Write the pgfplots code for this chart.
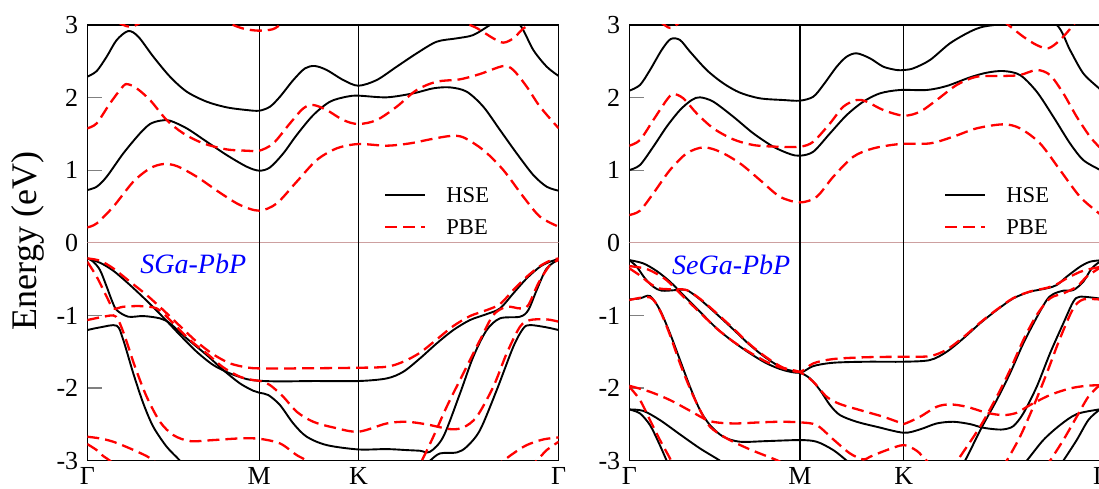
\documentclass[border=0pt]{standalone}
\usepackage{fontspec}
\setmainfont{Liberation Serif}
\usepackage{pgfplots}
\pgfplotsset{compat=1.18}
\definecolor{zeroline}{RGB}{205,160,160}

% 1 px of the reference = 0.5pt; x runs along the k-path in px from Gamma
\pgfplotsset{
  bandaxis/.style={
    scale only axis, width=235.7pt, height=217.85pt, anchor=south west,
    xmin=0, xmax=471.4, ymin=-3, ymax=3,
    ytick={-3,-2,-1,0,1,2,3}, yticklabels={-3,-2,-1,0,1,2,3},
    ytick pos=left, tick align=inside, major tick length=7.5pt,
    xtick style={draw=none},
    ytick style={line width=0.6pt},
    axis line style={line width=0.6pt},
    yticklabel style={font=\fontsize{13}{15}\selectfont, xshift=-1pt},
    xticklabel style={font=\fontsize{13}{15}\selectfont, inner sep=3pt},
  },
  hse/.style={black, line width=0.95pt, smooth, tension=0.5},
  pbe/.style={red, line width=1.15pt, dash pattern=on 6pt off 3pt, smooth, tension=0.5},
}
\tikzset{
  hseline/.style={black, line width=0.95pt},
  pbeline/.style={red, line width=1.15pt, dash pattern=on 6pt off 3pt},
  legtext/.style={anchor=west, inner sep=0pt, font=\fontsize{11.3}{13}\selectfont},
  paneltag/.style={anchor=base west, inner sep=0pt, text=blue, font=\fontsize{14}{16}\selectfont\itshape},
}

\begin{document}
\begin{tikzpicture}

% ---------------- left panel: SGa-PbP ----------------
\begin{axis}[bandaxis, at={(43.65pt,13.65pt)},
  xtick={0,172,271.2,471.4}, xticklabels={Γ,M,K,Γ}]
\draw[zeroline, line width=0.4pt] (axis cs:0,0) -- (axis cs:471.4,0);
\draw[black, line width=0.6pt] (axis cs:172,-3) -- (axis cs:172,3);
\draw[black, line width=0.6pt] (axis cs:271.2,-3) -- (axis cs:271.2,3);

% HSE
\addplot[hse] coordinates {(0,0.727)(9.4,0.773)(19.4,0.911)(36,1.232)(52.7,1.508)(62.7,1.636)(72.7,1.682)(82.7,1.682)(99.4,1.577)(119.4,1.393)(139.4,1.209)(159.4,1.049)(172,0.994)(182.7,1.039)(196,1.232)(209.4,1.485)(226,1.76)(242.7,1.944)(259.4,2.013)(271,2.027)(299.4,2.004)(326,2.059)(346,2.128)(362.7,2.141)(379.4,2.082)(396,1.875)(412.7,1.554)(429.4,1.232)(446,0.934)(459.4,0.773)(471.4,0.718)};
\addplot[hse] coordinates {(0,2.288)(9.4,2.366)(19.4,2.564)(29.4,2.793)(41,2.917)(51,2.839)(66,2.564)(82.7,2.288)(99.4,2.082)(119.4,1.944)(139.4,1.866)(159.4,1.829)(172,1.82)(182.7,1.875)(192.7,2.013)(206,2.242)(217.7,2.403)(227.7,2.435)(239.4,2.38)(256,2.242)(271,2.164)(289.4,2.242)(309.4,2.426)(329.4,2.61)(349.4,2.77)(369.4,2.816)(386,2.862)(402.7,3.0)(417,3.12)(432.7,3.0)(446,2.656)(459.4,2.426)(471.4,2.297)};
\addplot[hse] coordinates {(0,-0.214)(12.7,-0.274)(26,-0.384)(42.7,-0.581)(59.4,-0.797)(76,-1.027)(92.7,-1.27)(109.4,-1.5)(126,-1.683)(142.7,-1.798)(159.4,-1.876)(172,-1.899)(192.7,-1.908)(226,-1.903)(271,-1.903)(299.4,-1.867)(316,-1.775)(332.7,-1.591)(349.4,-1.385)(366,-1.201)(382.7,-1.063)(399.4,-0.981)(412.7,-0.903)(426,-0.696)(439.4,-0.489)(452.7,-0.329)(462.7,-0.26)(471.4,-0.223)};
\addplot[hse] coordinates {(0,-0.214)(6,-0.26)(12.7,-0.375)(19.4,-0.604)(24.4,-0.788)(29.4,-0.926)(41,-1.017)(56,-1.008)(72.7,-1.04)(82.7,-1.109)(99.4,-1.316)(119.4,-1.545)(136,-1.752)(152.7,-1.936)(166,-2.037)(172,-2.064)(181,-2.096)(192.7,-2.234)(206,-2.487)(219.4,-2.67)(239.4,-2.785)(271,-2.845)(299.4,-2.84)(319.4,-2.854)(332.7,-2.863)(342.7,-2.877)(356,-2.67)(372.7,-2.074)(386,-1.568)(399.4,-1.201)(412.7,-1.04)(432.7,-1.017)(441,-0.926)(449.4,-0.65)(459.4,-0.352)(471.4,-0.228)};
\addplot[hse] coordinates {(0,-1.201)(12.7,-1.164)(29.4,-1.141)(36,-1.339)(46,-1.798)(56,-2.211)(66,-2.533)(79.4,-2.808)(92.7,-3.0)(105,-3.2)};
\addplot[hse] coordinates {(335,-3.1)(342.7,-3.0)(352.7,-2.9)(369.4,-2.887)(379.4,-2.808)(392.7,-2.579)(409.4,-2.028)(426,-1.431)(436,-1.178)(442.7,-1.132)(459.4,-1.164)(471.4,-1.201)};

% PBE
\addplot[pbe] coordinates {(0,0.213)(9.4,0.268)(26,0.498)(46,0.842)(62.7,1.026)(76,1.085)(89.4,1.058)(109.4,0.911)(132.7,0.69)(152.7,0.521)(172,0.443)(189.4,0.543)(209.4,0.842)(229.4,1.14)(249.4,1.301)(271,1.361)(299.4,1.338)(322.7,1.37)(342.7,1.425)(362.7,1.471)(376,1.453)(396,1.278)(416,1.003)(436,0.635)(452.7,0.36)(471.4,0.222)};
\addplot[pbe] coordinates {(0,1.577)(9.4,1.646)(22.7,1.921)(36,2.16)(41,2.183)(49.4,2.128)(62.7,1.967)(79.4,1.691)(96,1.508)(116,1.37)(139.4,1.287)(159.4,1.269)(172,1.269)(186,1.37)(202.7,1.646)(216,1.852)(226,1.898)(239.4,1.829)(256,1.691)(271,1.636)(289.4,1.691)(309.4,1.875)(329.4,2.105)(349.4,2.219)(372.7,2.252)(392.7,2.325)(416,2.435)(426,2.38)(439.4,2.151)(452.7,1.875)(471.4,1.577)};
\addplot[pbe] coordinates {(0,3.3)(25,3.08)(43,2.975)(60,3.08)(100,3.3)(146,3.0)(160,2.94)(172,2.922)(185,2.94)(193,3.0)(230,3.3)(271,3.45)(330,3.3)(382.7,3.0)(392.7,2.931)(406,2.816)(416,2.757)(426,2.816)(436,2.954)(441,3.0)(460,3.3)(471.4,3.4)};
\addplot[pbe] coordinates {(0,-0.214)(12.7,-0.246)(26,-0.352)(42.7,-0.535)(59.4,-0.719)(76,-0.926)(92.7,-1.146)(109.4,-1.362)(126,-1.536)(142.7,-1.66)(159.4,-1.715)(172,-1.729)(206,-1.729)(271,-1.72)(299.4,-1.706)(316,-1.637)(332.7,-1.513)(349.4,-1.33)(366,-1.146)(382.7,-1.008)(399.4,-0.926)(412.7,-0.843)(426,-0.65)(439.4,-0.467)(452.7,-0.32)(462.7,-0.246)(471.4,-0.214)};
\addplot[pbe] coordinates {(0,-0.26)(9.4,-0.466)(19.4,-0.742)(26,-0.903)(36,-0.88)(52.7,-0.871)(69.4,-0.903)(82.7,-1.063)(102.7,-1.339)(119.4,-1.522)(136,-1.715)(152.7,-1.844)(166,-1.89)(172,-1.899)(182.7,-1.959)(196,-2.12)(209.4,-2.326)(226,-2.464)(246,-2.542)(271,-2.601)(299.4,-2.487)(319.4,-2.464)(339.4,-2.5)(362.7,-2.565)(376,-2.542)(389.4,-2.395)(406,-1.982)(419.4,-1.522)(432.7,-1.155)(442.7,-1.063)(459.4,-1.054)(471.4,-1.086)};
\addplot[pbe] coordinates {(0,-1.063)(12.7,-1.027)(26,-0.999)(31,-1.063)(37.7,-1.293)(47.7,-1.706)(59.4,-2.12)(72.7,-2.464)(86,-2.647)(102.7,-2.73)(126,-2.716)(152.7,-2.693)(172,-2.698)(192.7,-2.762)(209.4,-2.923)(219.4,-3.0)(230,-3.15)};
\addplot[pbe] coordinates {(325,-3.2)(334.4,-3.0)(346,-2.67)(359.4,-2.257)(376,-1.798)(392.7,-1.339)(406,-0.994)(419.4,-0.88)(432.7,-0.903)(441,-0.857)(451,-0.558)(462.7,-0.306)(471.4,-0.237)};
\addplot[pbe] coordinates {(0,-2.67)(12.7,-2.693)(26,-2.739)(42.7,-2.831)(59.4,-2.937)(66,-3.0)(75,-3.1)};
\addplot[pbe] coordinates {(0,-2.771)(9.4,-2.854)(16,-2.937)(22.7,-3.0)(30,-3.1)};
\addplot[pbe] coordinates {(405,-3.1)(416,-3.0)(426,-2.9)(439.4,-2.785)(456,-2.707)(471.4,-2.68)};
\addplot[pbe] coordinates {(440,-3.1)(449.4,-3.0)(459.4,-2.854)(471.4,-2.739)};

\draw[hseline] (axis cs:297.7,0.658) -- (axis cs:337.7,0.658);
\draw[pbeline] (axis cs:297.7,0.222) -- (axis cs:337.7,0.222);
\node[legtext] at (axis cs:358.7,0.658) {HSE};
\node[legtext] at (axis cs:358.7,0.222) {PBE};
\node[paneltag] at (axis cs:52.7,-0.42) {SGa-PbP};
\end{axis}

% ---------------- right panel: SeGa-PbP ----------------
\begin{axis}[bandaxis, at={(314.65pt,13.65pt)},
  xtick={0,170.7,274.4,471.4}, xticklabels={Γ,M,K,Γ}]
\draw[zeroline, line width=0.4pt] (axis cs:0,0) -- (axis cs:471.4,0);
\draw[black, line width=0.6pt] (axis cs:170.7,-3) -- (axis cs:170.7,3);
\draw[black, line width=0.6pt] (axis cs:274.4,-3) -- (axis cs:274.4,3);

% HSE
\addplot[hse] coordinates {(0,1.003)(10.7,1.072)(24,1.324)(37.4,1.6)(50.7,1.829)(62.4,1.967)(70.7,2.004)(84,1.944)(104,1.737)(124,1.508)(144,1.324)(160.7,1.223)(170.7,1.2)(184,1.255)(200.7,1.508)(217.4,1.76)(234,1.944)(250.7,2.059)(270.7,2.105)(297.4,2.105)(317.4,2.16)(340.7,2.279)(357.4,2.343)(374,2.366)(390.7,2.311)(407.4,2.082)(424,1.737)(440.7,1.37)(454,1.14)(469.7,1.012)(471.4,1.005)};
\addplot[hse] coordinates {(0,2.095)(10.7,2.174)(20.7,2.38)(32.4,2.656)(41.4,2.807)(50.7,2.793)(60.7,2.633)(77.4,2.38)(94,2.197)(110.7,2.068)(130.7,1.99)(154,1.967)(170.7,1.958)(184,2.013)(194,2.174)(207.4,2.426)(217.4,2.564)(227.4,2.61)(240.7,2.541)(254,2.426)(267.4,2.38)(274.4,2.38)(284,2.403)(300.7,2.518)(320.7,2.748)(340.7,2.908)(354,2.977)(374,3.02)(400,3.12)(427.4,3.0)(440.7,2.656)(454,2.334)(469.7,2.128)(471.4,2.1)};
\addplot[hse] coordinates {(0,-0.237)(14,-0.283)(27.4,-0.388)(40.7,-0.535)(54,-0.719)(70.7,-0.949)(87.4,-1.178)(104,-1.362)(120.7,-1.522)(137.4,-1.66)(154,-1.752)(170.7,-1.789)(184,-1.697)(204,-1.651)(237.4,-1.637)(274.4,-1.637)(300.7,-1.614)(317.4,-1.5)(334,-1.316)(350.7,-1.109)(367.4,-0.926)(384,-0.765)(400.7,-0.673)(417.4,-0.627)(427.4,-0.581)(437.4,-0.466)(450.7,-0.329)(460.7,-0.26)(471.4,-0.24)};
\addplot[hse] coordinates {(0,-0.237)(7.4,-0.329)(15.7,-0.489)(24,-0.604)(32.4,-0.659)(47.4,-0.65)(57.4,-0.65)(70.7,-0.779)(87.4,-0.981)(104,-1.192)(120.7,-1.408)(137.4,-1.591)(154,-1.729)(170.7,-1.789)(180.7,-1.867)(190.7,-2.028)(200.7,-2.234)(210.7,-2.372)(227.4,-2.464)(247.4,-2.533)(274.4,-2.615)(290.7,-2.569)(307.4,-2.487)(324,-2.464)(340.7,-2.496)(352.4,-2.542)(364,-2.565)(374,-2.569)(384,-2.524)(394,-2.349)(407.4,-1.982)(420.7,-1.522)(434,-1.109)(444,-0.811)(450.7,-0.742)(469.7,-0.765)(471.4,-0.77)};
\addplot[hse] coordinates {(0,-0.779)(10.7,-0.765)(20.7,-0.733)(30.7,-0.926)(40.7,-1.247)(50.7,-1.614)(60.7,-1.982)(70.7,-2.303)(80.7,-2.51)(94,-2.67)(110.7,-2.739)(137.4,-2.73)(170.7,-2.716)(187.4,-2.739)(204,-2.854)(217.4,-3.0)(225,-3.1)};
\addplot[hse] coordinates {(328,-3.15)(335.7,-3.0)(352.4,-2.542)(367.4,-2.165)(380.7,-1.798)(394,-1.385)(407.4,-1.027)(417.4,-0.788)(424,-0.705)(434,-0.659)(444,-0.65)(454,-0.535)(462.4,-0.352)(471.4,-0.25)};
\addplot[hse] coordinates {(0,-2.294)(14,-2.314)(30.7,-2.441)(50.7,-2.638)(70.7,-2.831)(90.7,-3.0)(100,-3.1)};
\addplot[hse] coordinates {(0,-2.294)(10.7,-2.349)(20.7,-2.51)(29,-2.739)(37.4,-3.0)(42,-3.15)};
\addplot[hse] coordinates {(390,-3.1)(397.4,-3.0)(414,-2.716)(430.7,-2.51)(447.4,-2.358)(469.7,-2.294)(471.4,-2.294)};
\addplot[hse] coordinates {(428,-3.12)(434,-3.0)(447.4,-2.716)(459,-2.441)(469.7,-2.303)(471.4,-2.294)};

% PBE
\addplot[pbe] coordinates {(0,0.383)(10.7,0.443)(24,0.681)(40.7,1.003)(57.4,1.232)(74,1.315)(90.7,1.255)(110.7,1.095)(130.7,0.865)(150.7,0.635)(170.7,0.557)(187.4,0.635)(204,0.911)(224,1.186)(244,1.301)(270.7,1.361)(300.7,1.37)(324,1.462)(347.4,1.577)(374,1.632)(390.7,1.577)(410.7,1.37)(430.7,1.003)(450.7,0.635)(469.7,0.406)(471.4,0.39)};
\addplot[pbe] coordinates {(0,1.338)(10.7,1.416)(24,1.691)(37.4,1.967)(44,2.05)(54,1.99)(67.4,1.783)(84,1.577)(104,1.425)(124,1.347)(147.4,1.324)(170.7,1.324)(184,1.393)(200.7,1.646)(214,1.875)(227.4,1.967)(237.4,1.944)(254,1.829)(274.4,1.751)(290.7,1.806)(307.4,1.967)(327.4,2.174)(347.4,2.288)(374,2.298)(390.7,2.311)(407.4,2.38)(420.7,2.311)(434,2.059)(447.4,1.737)(460.7,1.462)(469.7,1.324)(471.4,1.31)};
\addplot[pbe] coordinates {(0,3.3)(30,3.05)(41,2.96)(52,3.05)(80,3.3)(172,3.4)(272,3.5)(350,3.3)(379,3.0)(394,2.839)(407.4,2.724)(419,2.679)(430.7,2.793)(444,3.0)(460,3.3)(471.4,3.4)};
\addplot[pbe] coordinates {(0,-0.32)(17.4,-0.36)(34,-0.48)(44,-0.6)(54,-0.74)(70.7,-0.96)(87.4,-1.18)(104,-1.36)(120.7,-1.51)(137.4,-1.64)(154,-1.73)(170.7,-1.775)(184,-1.66)(204,-1.6)(237.4,-1.575)(274.4,-1.568)(300.7,-1.56)(317.4,-1.47)(334,-1.3)(350.7,-1.1)(367.4,-0.92)(384,-0.76)(400.7,-0.67)(417.4,-0.62)(427.4,-0.57)(437.4,-0.49)(450.7,-0.4)(460.7,-0.36)(471.4,-0.33)};
\addplot[pbe] coordinates {(0,-0.35)(10.7,-0.45)(20.7,-0.56)(30.7,-0.63)(47.4,-0.64)(57.4,-0.65)(70.7,-0.77)(87.4,-0.97)(104,-1.18)(120.7,-1.4)(137.4,-1.58)(154,-1.72)(170.7,-1.78)(184,-1.913)(197.4,-2.12)(210.7,-2.22)(230.7,-2.303)(254,-2.395)(270.7,-2.477)(274.4,-2.496)(290.7,-2.395)(307.4,-2.257)(320.7,-2.225)(337.4,-2.257)(357.4,-2.34)(374,-2.372)(387.4,-2.34)(400.7,-2.234)(420.7,-2.096)(440.7,-2.005)(457.4,-1.968)(471.4,-1.96)};
\addplot[pbe] coordinates {(0,-0.788)(20.7,-0.751)(30.7,-0.935)(40.7,-1.27)(50.7,-1.66)(60.7,-2.005)(70.7,-2.303)(80.7,-2.533)(97.4,-2.693)(120.7,-2.845)(147.4,-2.992)(157.4,-3.06)(165,-3.1)};
\addplot[pbe] coordinates {(320,-3.15)(328,-3.0)(350.7,-2.533)(367.4,-2.12)(380.7,-1.752)(394,-1.339)(407.4,-0.994)(420.7,-0.765)(434,-0.696)(447.4,-0.604)(457.4,-0.466)(469.7,-0.352)(471.4,-0.345)};
\addplot[pbe] coordinates {(0,-1.968)(20.7,-2.051)(40.7,-2.165)(60.7,-2.312)(80.7,-2.455)(104,-2.487)(130.7,-2.472)(150.7,-2.464)(170.7,-2.472)(187.4,-2.51)(204,-2.707)(220.7,-2.9)(234,-2.983)(240.7,-2.946)(257.4,-2.854)(274.4,-2.785)(287.4,-2.863)(297.4,-3.0)(305,-3.1)};
\addplot[pbe] coordinates {(0,-1.982)(10.7,-2.165)(20.7,-2.441)(30.7,-2.716)(40.7,-2.969)(45,-3.1)};
\addplot[pbe] coordinates {(415,-3.1)(420.7,-3.0)(434,-2.716)(447.4,-2.395)(459,-2.12)(469.7,-1.968)(471.4,-1.96)};
\addplot[pbe] coordinates {(372,-3.1)(377.4,-3.0)(390.7,-2.67)(404,-2.257)(417.4,-1.798)(430.7,-1.316)(444,-0.903)(454,-0.779)(469.7,-0.779)(471.4,-0.78)};

\draw[hseline] (axis cs:315.7,0.658) -- (axis cs:355.7,0.658);
\draw[pbeline] (axis cs:315.7,0.222) -- (axis cs:355.7,0.222);
\node[legtext] at (axis cs:376.7,0.658) {HSE};
\node[legtext] at (axis cs:376.7,0.222) {PBE};
\node[paneltag] at (axis cs:42.4,-0.44) {SeGa-PbP};
\end{axis}

\node[rotate=90, anchor=base, font=\fontsize{18}{20}\selectfont] at (18.35pt,123.5pt) {Energy (eV)};

\pgfresetboundingbox
\useasboundingbox (0,0) rectangle (549.5pt,244pt);
\end{tikzpicture}
\end{document}
